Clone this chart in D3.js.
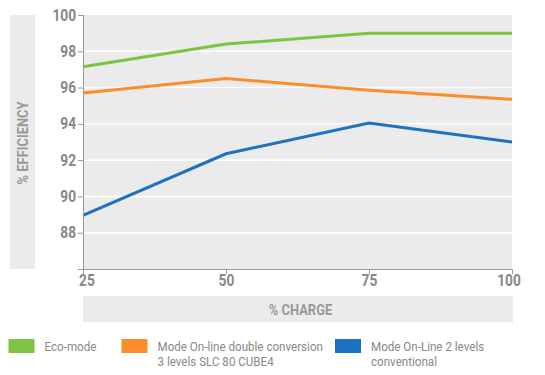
<!DOCTYPE html>
<html>
<head>
<meta charset="utf-8">
<script src="https://cdn.jsdelivr.net/npm/d3@7"></script>
<style>
  body { margin: 0; background: #fff; }
  text { font-family: "Roboto", "Liberation Sans", sans-serif; }
</style>
</head>
<body>
<div id="chart"></div>
<script>
// Data
const charge = [25, 50, 75, 100];
const ecoMode = [97.15, 98.4, 99.0, 99.0];
const doubleConversion = [95.7, 96.5, 95.85, 95.35];
const twoLevels = [88.95, 92.35, 94.05, 93.0];
const yTicks = [88, 90, 92, 94, 96, 98, 100];
const seriesNames = ["Eco-mode", "Mode On-line double conversion|3 levels SLC 80 CUBE4", "Mode On-Line 2 levels|conventional"];
const seriesColors = ["#7dc443", "#fd8c2a", "#1e72c2"];

const W = 545, H = 375;
const margin = {top: 15, right: 33, bottom: 106, left: 83};
const width = W - margin.left - margin.right,
    height = H - margin.top - margin.bottom;
const narrow = "scale(0.86,1)"; // fake a condensed face

const svg = d3.select("#chart")
  .append("svg")
    .attr("width", W)
    .attr("height", H);

const g = svg.append("g")
    .attr("transform", `translate(${margin.left},${margin.top})`);

const x = d3.scaleLinear().domain([25, 100]).range([0, width]);
const y = d3.scaleLinear().domain([86, 100]).range([height, 0]);

// Plot background
g.append("rect")
  .attr("width", width)
  .attr("height", height)
  .attr("fill", "#ebebeb");

// Grid lines
g.append("g")
  .selectAll("line")
  .data(yTicks.slice(0, -1))
  .join("line")
    .attr("x1", 0)
    .attr("x2", width)
    .attr("y1", d => y(d))
    .attr("y2", d => y(d))
    .attr("stroke", "#fff")
    .attr("stroke-width", 1.5);

// Lines
const series = [ecoMode, doubleConversion, twoLevels];
const line = d3.line()
  .x((d, i) => x(charge[i]))
  .y(d => y(d));

series.forEach((s, i) => {
  g.append("path")
    .datum(s)
    .attr("fill", "none")
    .attr("stroke", seriesColors[i])
    .attr("stroke-width", 3)
    .attr("d", line);
});

// Y axis
const yAxis = g.append("g")
  .call(d3.axisLeft(y).tickValues(yTicks).tickSize(5).tickSizeOuter(5).tickPadding(3));
yAxis.selectAll("path, line").attr("stroke", "#999");
yAxis.selectAll("text")
  .attr("fill", "#888")
  .attr("transform", narrow)
  .style("font-size", "16px")
  .style("font-weight", "bold");

// X axis
const xAxis = g.append("g")
  .attr("transform", `translate(0,${height})`)
  .call(d3.axisBottom(x).tickValues(charge).tickSize(5).tickSizeOuter(0).tickPadding(1));
xAxis.selectAll("path, line").attr("stroke", "#999");
xAxis.selectAll("text")
  .attr("fill", "#888")
  .attr("transform", narrow)
  .style("font-size", "16px")
  .style("font-weight", "bold")
  .attr("dx", (d, i) => i === 0 ? 4 : (i === charge.length - 1 ? -4 : 0));

// Y axis label box
svg.append("rect")
  .attr("x", 10).attr("y", margin.top)
  .attr("width", 25).attr("height", height)
  .attr("fill", "#ebebeb");
svg.append("text")
  .attr("transform", `translate(28,${143}) rotate(-90) ${narrow}`)
  .attr("text-anchor", "middle")
  .attr("fill", "#999")
  .style("font-size", "15px")
  .style("font-weight", "bold")
  .text("% EFFICIENCY");

// X axis label box
svg.append("rect")
  .attr("x", margin.left).attr("y", 296)
  .attr("width", width + 1).attr("height", 26)
  .attr("fill", "#ebebeb");
svg.append("text")
  .attr("transform", `translate(${margin.left + width / 2 + 3},315) ${narrow}`)
  .attr("text-anchor", "middle")
  .attr("fill", "#999")
  .style("font-size", "15px")
  .style("font-weight", "bold")
  .text("% CHARGE");

// Legend
const legendX = [8.5, 121.5, 335];
const legend = svg.append("g")
  .selectAll("g")
  .data(seriesNames)
  .join("g")
    .attr("transform", (d, i) => `translate(${legendX[i]},339)`);
legend.append("rect")
  .attr("width", 26).attr("height", 14)
  .attr("fill", (d, i) => seriesColors[i]);
legend.append("text")
  .attr("transform", `translate(36,0) ${narrow}`)
  .attr("fill", "#888")
  .style("font-size", "13.5px")
  .selectAll("tspan")
  .data(d => d.split("|"))
  .join("tspan")
    .attr("x", 0)
    .attr("y", (d, i) => 12 + i * 15.5)
    .text(d => d);
</script>
</body>
</html>
